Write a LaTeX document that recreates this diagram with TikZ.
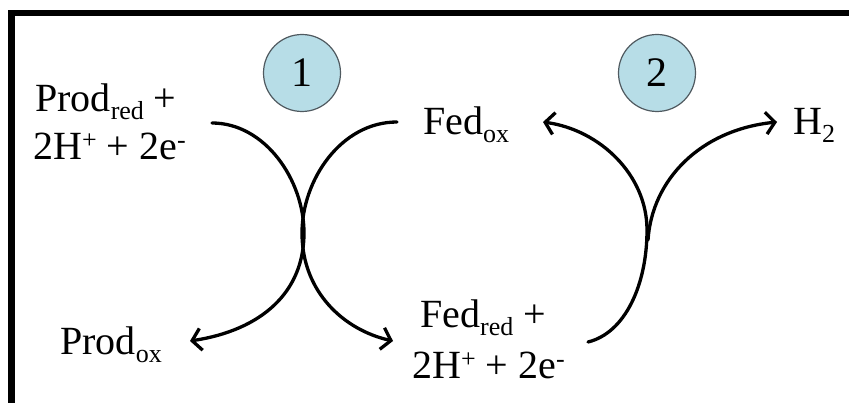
\documentclass[tikz,border=0pt]{standalone}
\usepackage{fontspec}
\setmainfont{Liberation Serif}
\usetikzlibrary{arrows.meta}
\definecolor{circfill}{HTML}{B7DDE7}
\definecolor{circline}{HTML}{505A60}
\newcommand{\mysub}[1]{\raisebox{-8pt}{\fontsize{26}{26}\selectfont #1}}
\newcommand{\mysup}[1]{\raisebox{11pt}{\fontsize{26}{26}\selectfont #1}}
\begin{document}
\begin{tikzpicture}[x=1pt,y=-1pt,
  lbl/.style={inner sep=0pt, anchor=base west, font=\fontsize{40}{48}\selectfont},
  circ/.style={circle, minimum size=77pt, inner sep=0pt, fill=circfill, draw=circline, line width=1.2pt, font=\fontsize{42}{42}\selectfont},
  rx/.style={line width=3.3pt, line cap=round, -{Straight Barb[length=9pt,width=22pt]}},
  rxn/.style={line width=3.3pt, line cap=round}]
\useasboundingbox (0,0) rectangle (849,403);
\draw[line width=6.5pt] (11.5,403) -- (11.5,13) -- (849,13);
% circles
\node[circ] (c1) at (302,73) {1};
\node[circ] (c2) at (657,73) {2};
% labels
\node[lbl] (prodred) at (35,112) {Prod\mysub{red} +};
\node[lbl] (prodred2) at (33,160) {2H\mysup{+} + 2e\mysup{-}};
\node[lbl] (fedox) at (423,135) {Fed\mysub{ox}};
\node[lbl] (htwo) at (793,135) {H\mysub{2}};
\node[lbl] (prodox) at (60,355) {Prod\mysub{ox}};
\node[lbl] (fedred) at (420,328) {Fed\mysub{red} +};
\node[lbl] (fedred2) at (412,378) {2H\mysup{+} + 2e\mysup{-}};
% coordinates
\coordinate (a1) at (212,123);
\coordinate (xa) at (304,233);
\coordinate (a2) at (190,341);
\coordinate (b1) at (397,122);
\coordinate (xb) at (302,233);
\coordinate (b2) at (393,341);
\coordinate (m1) at (588,342);
\coordinate (mx) at (647,230);
\coordinate (br) at (648,240);
\coordinate (m2) at (543,122);
\coordinate (m3) at (777,122);
% reaction 1
\draw[rx] (a1) .. controls (265,123) and (304,180) .. (xa) .. controls (304,292) and (262,330) .. (a2);
\draw[rx] (b1) .. controls (341,122) and (302,180) .. (xb) .. controls (302,292) and (344,330) .. (b2);
% reaction 2
\draw[rx] (m1) .. controls (625,333) and (647,285) .. (mx) .. controls (647,175) and (600,130) .. (m2);
\draw[rx] (br) .. controls (652,180) and (700,130) .. (m3);
\end{tikzpicture}
\end{document}
